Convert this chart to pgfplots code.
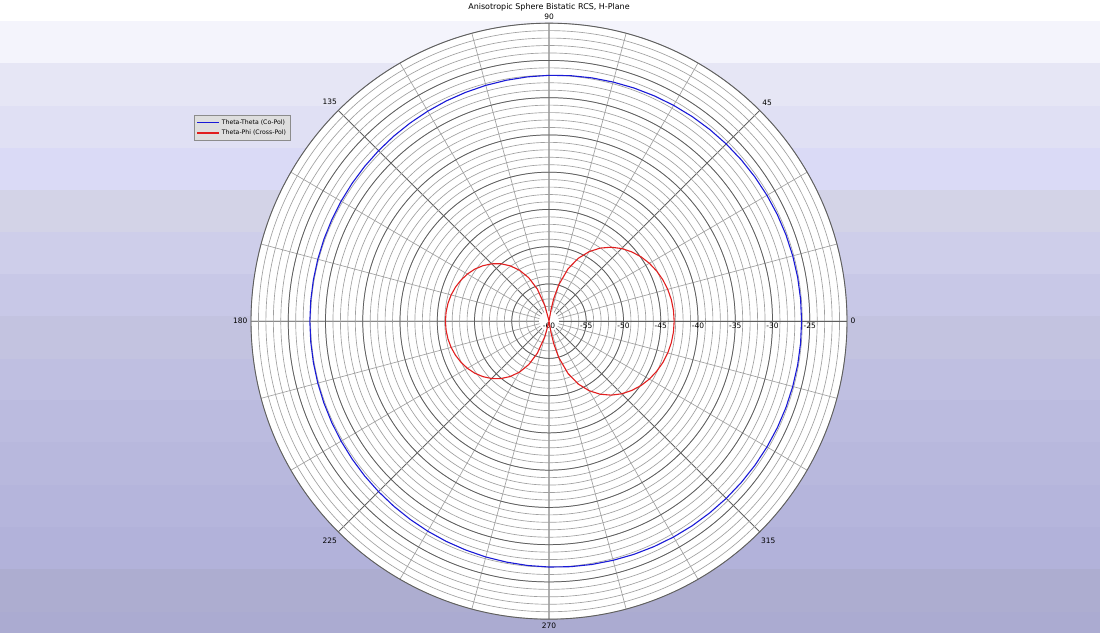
\documentclass[border=0pt]{standalone}
\usepackage{pgfplots}
\pgfplotsset{compat=1.18}
\usepgfplotslibrary{polar}
\usepackage{pgfplotstable}
\usepackage{fontspec}
\setmainfont{DejaVu Sans}

\definecolor{copol}{RGB}{25,25,215}
\definecolor{xpol}{RGB}{225,30,30}
\definecolor{gmaj}{RGB}{95,95,95}
\definecolor{gmin}{RGB}{160,160,160}
\definecolor{legbg}{RGB}{222,222,222}
\definecolor{legline}{RGB}{140,140,140}

% Theta-Theta (Co-Pol), dB vs bistatic angle
\pgfplotstableread{
ang db
0 -26.10
5 -26.10
10 -26.11
15 -26.13
20 -26.15
25 -26.18
30 -26.22
35 -26.26
40 -26.31
45 -26.36
50 -26.42
55 -26.48
60 -26.55
65 -26.62
70 -26.69
75 -26.77
80 -26.84
85 -26.92
90 -27.00
95 -27.08
100 -27.16
105 -27.23
110 -27.31
115 -27.38
120 -27.45
125 -27.52
130 -27.58
135 -27.64
140 -27.69
145 -27.74
150 -27.78
155 -27.82
160 -27.85
165 -27.87
170 -27.89
175 -27.90
180 -27.90
185 -27.90
190 -27.89
195 -27.87
200 -27.85
205 -27.82
210 -27.78
215 -27.74
220 -27.69
225 -27.64
230 -27.58
235 -27.52
240 -27.45
245 -27.38
250 -27.31
255 -27.23
260 -27.16
265 -27.08
270 -27.00
275 -26.92
280 -26.84
285 -26.77
290 -26.69
295 -26.62
300 -26.55
305 -26.48
310 -26.42
315 -26.36
320 -26.31
325 -26.26
330 -26.22
335 -26.18
340 -26.15
345 -26.13
350 -26.11
355 -26.10
360 -26.10
}\copoltab

% Theta-Phi (Cross-Pol), clipped at the -60 dB floor
\pgfplotstableread{
ang db
-90 -60
-85 -60
-82 -60
-80 -58.41
-78 -56.84
-75 -54.94
-70 -52.52
-65 -50.68
-60 -49.22
-55 -48.03
-50 -47.04
-45 -46.21
-40 -45.52
-35 -44.93
-30 -44.45
-25 -44.06
-20 -43.74
-15 -43.50
-10 -43.33
-5 -43.23
0 -43.20
5 -43.23
10 -43.33
15 -43.50
20 -43.74
25 -44.06
30 -44.45
35 -44.93
40 -45.52
45 -46.21
50 -47.04
55 -48.03
60 -49.22
65 -50.68
70 -52.52
75 -54.94
78 -56.84
80 -58.41
82 -60
85 -60
90 -60
95 -60
100 -60
102 -59.74
105 -57.84
110 -55.42
115 -53.58
120 -52.12
125 -50.93
130 -49.94
135 -49.11
140 -48.42
145 -47.83
150 -47.35
155 -46.96
160 -46.64
165 -46.40
170 -46.23
175 -46.13
180 -46.10
185 -46.13
190 -46.23
195 -46.40
200 -46.64
205 -46.96
210 -47.35
215 -47.83
220 -48.42
225 -49.11
230 -49.94
235 -50.93
240 -52.12
245 -53.58
250 -55.42
255 -57.84
258 -59.74
260 -60
265 -60
270 -60
}\xpoltab

\begin{document}
\begin{tikzpicture}[x=1bp,y=1bp]
  % banded backdrop
  \fill[white] (0,0) rectangle (1100,632);
  \foreach \ta/\tb/\col in {20/62/F4F4FC, 62/105/E6E6F5, 105/147/E0E0F4,
      147/189/DADAF6, 189/231/D3D3E7, 231/273/CECEEA, 273/315/C8C8E7,
      315/358/C3C3E0, 358/399/BFBFE1, 399/441/BBBBDF, 441/484/B8B8DD,
      484/526/B5B5DC, 526/568/B2B2DA, 568/611/ADADD0, 611/632/ABABD1}{
    \definecolor{band}{HTML}{\col}
    \fill[band] (0,632-\ta) rectangle (1100,632-\tb);
  }
  \fill[white] (549,312) circle (298);
  \node[font=\fontsize{8}{9}\selectfont] at (549,626) {Anisotropic Sphere Bistatic RCS, H-Plane};

  \begin{polaraxis}[
      at={(549bp,312bp)}, anchor=origin,
      scale only axis, width=596bp, height=596bp,
      ymin=0, ymax=40,
      xtick={0,45,...,315},
      xticklabels={0,45,90,135,180,225,270,315},
      minor xtick={0,15,...,345},
      ytick={0,5,...,35},
      yticklabels={,-55,-50,-45,-40,-35,-30,-25},
      minor ytick={0,1,...,40},
      grid=both,
      major grid style={gmaj, line width=0.75bp},
      minor grid style={gmin, line width=0.65bp},
      axis line style={gmaj, line width=0.9bp},
      major tick length=0pt, minor tick length=0pt,
      tick label style={font=\fontsize{7.5}{8.5}\selectfont},
      yticklabel style={anchor=north, inner sep=1.5bp},
      legend style={at={(-0.0956,0.8456)}, anchor=north west,
        fill=legbg, draw=legline, font=\fontsize{6.2}{7.2}\selectfont,
        inner sep=2.4bp},
      legend cell align=left,
    ]
    % clear patch round the -60 dB centre, with its label
    \fill[white] (axis cs:0,0) circle (10bp);
    \node[anchor=north, inner sep=1.5bp, font=\fontsize{7.5}{8.5}\selectfont]
      at (axis cs:0,0) {-60};
    \addplot[copol, line width=1.1bp,
      legend image code/.code={\draw[copol, line width=1.2bp] (0bp,0bp) -- (22bp,0bp);}]
      table[x=ang, y expr=\thisrow{db}+60] {\copoltab};
    \addlegendentry{Theta-Theta (Co-Pol)}
    \addplot[xpol, line width=1.1bp,
      legend image code/.code={\draw[xpol, line width=1.2bp] (0bp,0bp) -- (22bp,0bp);}]
      table[x=ang, y expr=\thisrow{db}+60] {\xpoltab};
    \addlegendentry{Theta-Phi (Cross-Pol)}
  \end{polaraxis}
\end{tikzpicture}
\end{document}
